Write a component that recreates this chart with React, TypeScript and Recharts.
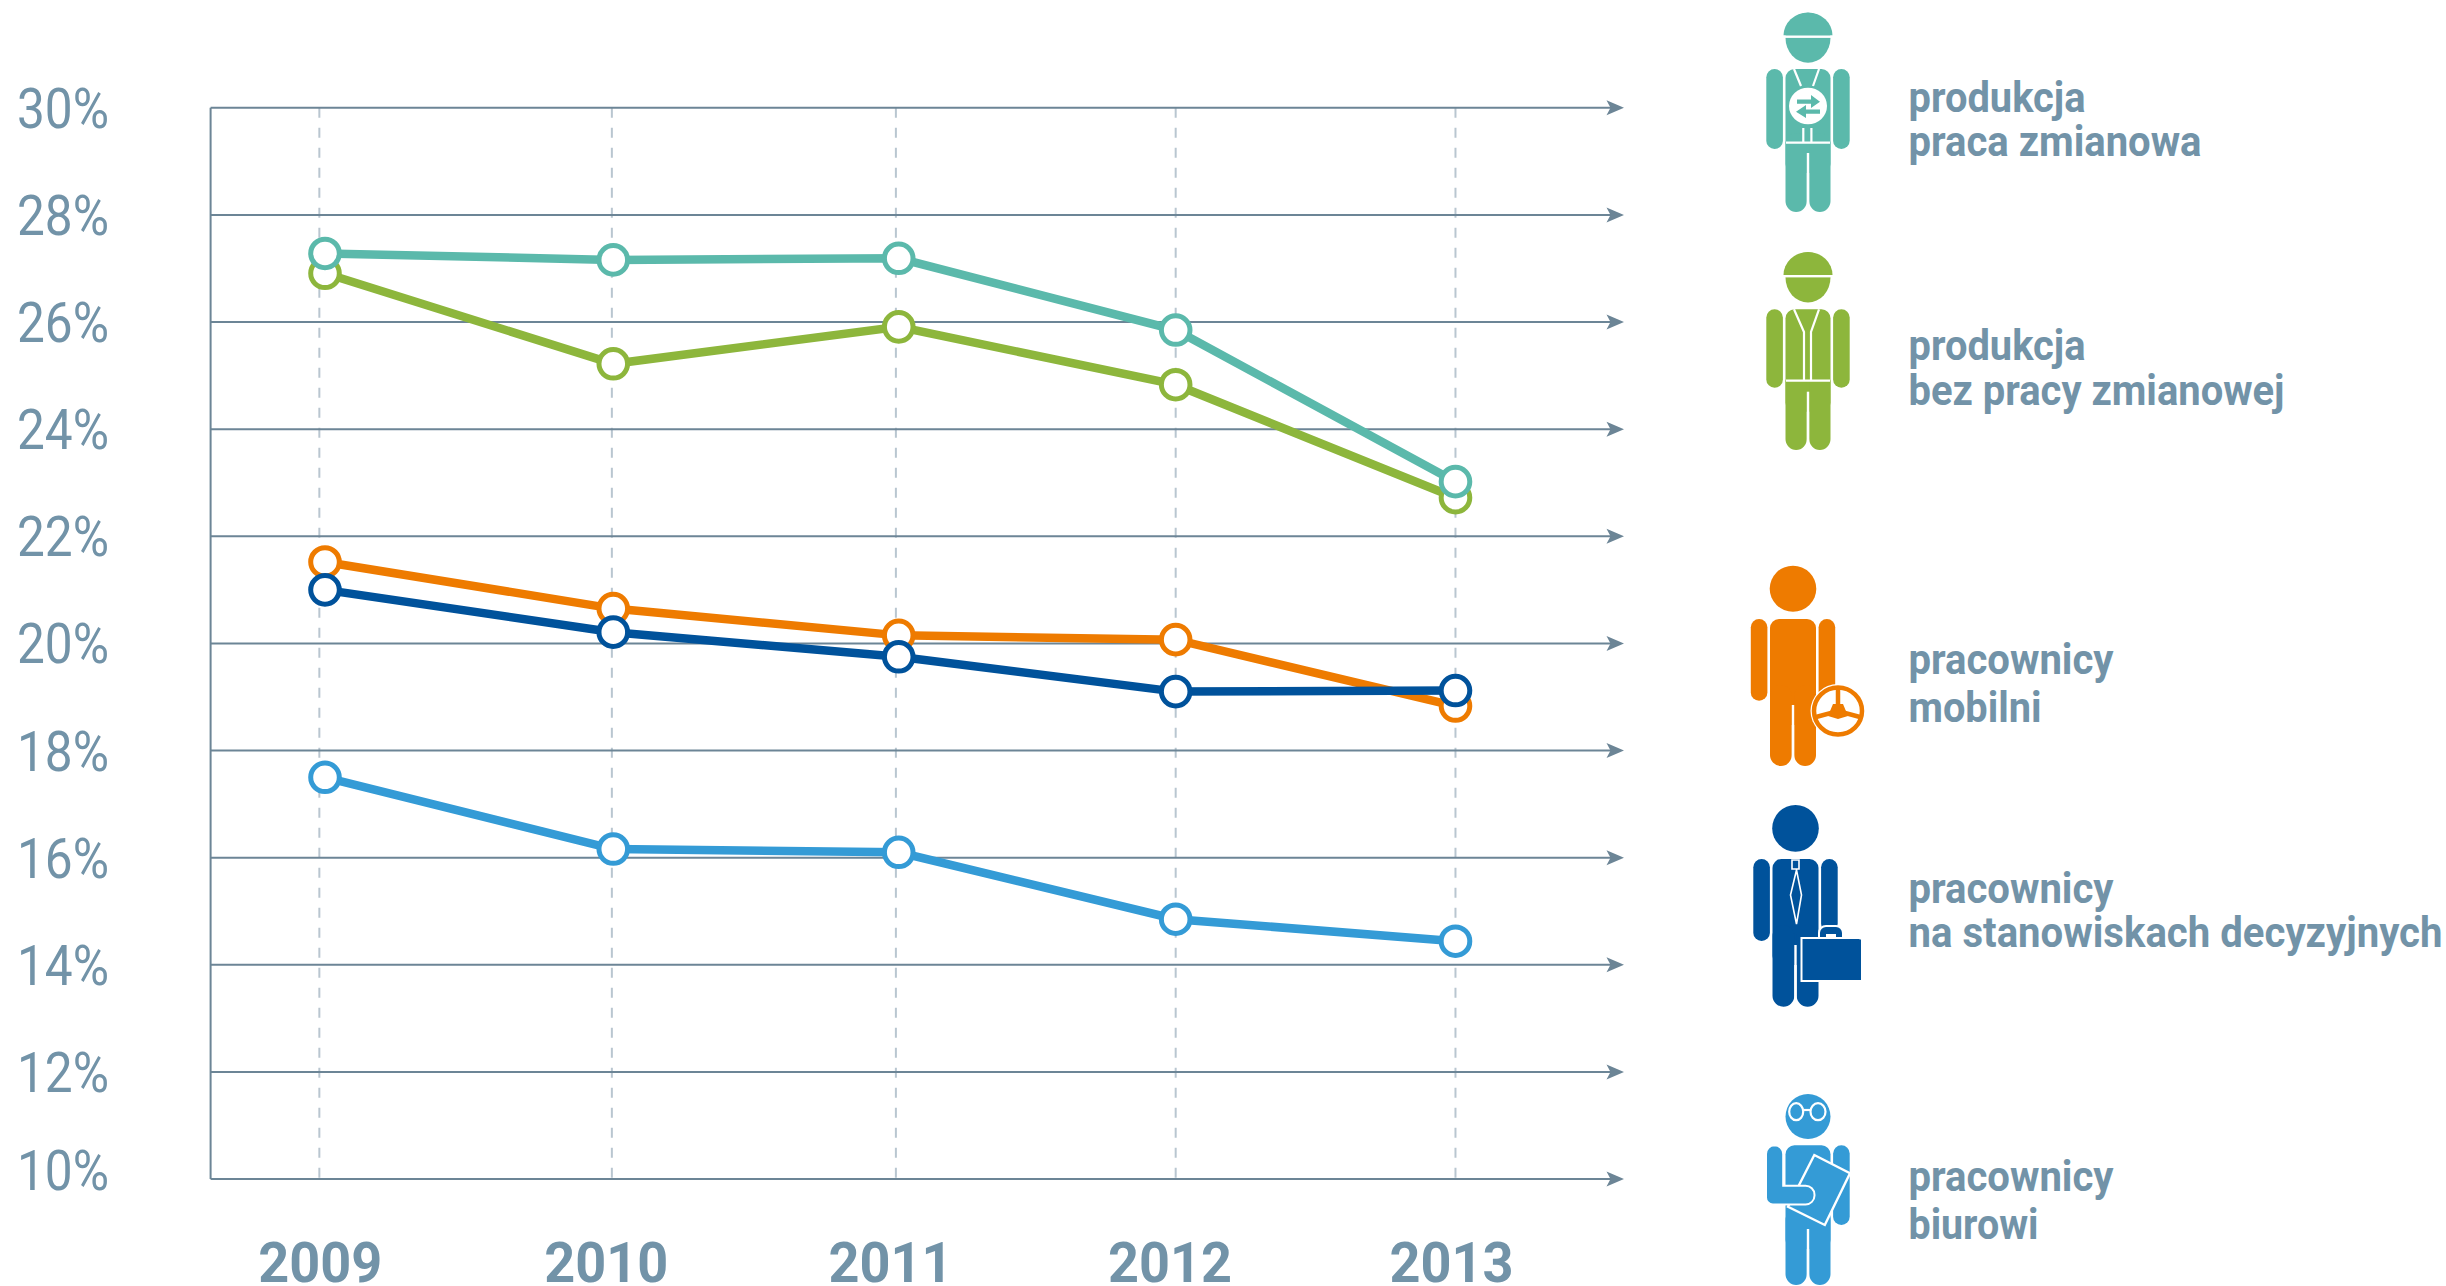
import { LineChart, Line, XAxis, YAxis, CartesianGrid, ReferenceLine } from 'recharts'

const WIDTH = 2446
const HEIGHT = 1286

const YEARS = ['2009', '2010', '2011', '2012', '2013']
// the source drawing is hand placed: years are not perfectly evenly spaced
const POINT_YEARS = [2009, 2010.02, 2011.03, 2012.01, 2013]
const GRID_YEARS = [2008.98, 2010.015, 2011.02, 2012.01, 2013]
const Y_TICKS = [10, 12, 14, 16, 18, 20, 22, 24, 26, 28, 30]

const SHIFT_WORK = [27.28, 27.16, 27.19, 25.85, 23.02]
const NO_SHIFT_WORK = [26.91, 25.22, 25.91, 24.83, 22.72]
const MOBILE = [21.52, 20.65, 20.15, 20.07, 18.83]
const MANAGERS = [21.0, 20.21, 19.75, 19.1, 19.12]
const OFFICE = [17.5, 16.16, 16.1, 14.85, 14.44]

const TEAL = '#5BB9AB'
const GREEN = '#8DB63C'
const ORANGE = '#EE7B00'
const NAVY = '#00529B'
const BLUE = '#349BD6'
const TEXT = '#7293A8'
const AXIS = '#6C8596'
const DASH = '#B9C6D0'

const chartData = POINT_YEARS.map((x, i) => ({
  x,
  shift: SHIFT_WORK[i],
  noShift: NO_SHIFT_WORK[i],
  mobile: MOBILE[i],
  managers: MANAGERS[i],
  office: OFFICE[i],
}))

const YEAR_SHIFT = [1, -5.5, -5.5, -5.7, -4]

const XTick = ({ x, index }: any) => (
  <text
    x={x + YEAR_SHIFT[index]}
    y={1281.5}
    textAnchor="middle"
    fontFamily="Roboto"
    fontWeight={700}
    fontSize={56}
    fill={TEXT}
    textLength={124}
    lengthAdjust="spacingAndGlyphs"
  >
    {YEARS[index]}
  </text>
)

const YTick = ({ y, payload }: any) => (
  <text
    x={17}
    y={y + (payload.value === 10 ? 11 : 20)}
    fontFamily="Roboto"
    fontWeight={400}
    fontSize={55}
    fill={TEXT}
    textLength={92}
    lengthAdjust="spacingAndGlyphs"
  >
    {`${payload.value}%`}
  </text>
)

const ArrowLine = ({ x1, y1, x2 }: any) => (
  <g>
    <line x1={x1} y1={y1} x2={x2 - 10} y2={y1} stroke={AXIS} strokeWidth={2} />
    <polygon points={`${x2},${y1} ${x2 - 17.5},${y1 - 7.5} ${x2 - 13.5},${y1} ${x2 - 17.5},${y1 + 7.5}`} fill={AXIS} />
  </g>
)

const dot = (color: string) => ({ r: 14.3, fill: '#fff', stroke: color, strokeWidth: 5 })

// generic figure used by all five legend icons
function Person({ color, x, headTop, headBottom, headRx = 22.5, top, crotch, feet, halfW = 22.5, leftArm, rightArm }: any) {
  const armGap = 2.6
  const armW = 16.6
  return (
    <g fill={color}>
      <ellipse cx={x} cy={(headTop + headBottom) / 2} rx={headRx} ry={(headBottom - headTop) / 2} />
      <rect x={x - halfW} y={top} width={halfW * 2} height={crotch - top + 20} rx={9} />
      <rect x={x - halfW} y={crotch - 20} width={halfW - 1.2} height={feet - crotch + 20} rx={11} />
      <rect x={x + 1.2} y={crotch - 20} width={halfW - 1.2} height={feet - crotch + 20} rx={11} />
      <rect x={x - 1.2} y={crotch} width={2.4} height={feet - crotch} fill="#fff" />
      {leftArm && <rect x={x - halfW - armGap - armW} y={top} width={armW} height={leftArm - top} rx={8.3} />}
      {rightArm && <rect x={x + halfW + armGap} y={top} width={armW} height={rightArm - top} rx={8.3} />}
    </g>
  )
}

const Helmet = ({ color, x, y }: any) => (
  <g>
    <path d={`M${x - 24.5} ${y} A24.5 23 0 0 1 ${x + 24.5} ${y} Z`} fill={color} />
    <rect x={x - 25} y={y} width={50} height={2.4} fill="#fff" />
  </g>
)

function Icons() {
  const w = { stroke: '#fff', strokeWidth: 2.2, fill: 'none' }
  return (
    <>
      {/* shift worker */}
      <Person color={TEAL} x={1808} headTop={12.7} headBottom={62.7} top={69} crotch={153} feet={212} leftArm={149} rightArm={149} />
      <Helmet color={TEAL} x={1808} y={35.5} />
      <path d="M1794 69L1801 86M1819 69L1813 86M1786 142.7H1830M1803.3 128V142.7M1811.4 128V142.7" {...w} />
      <ellipse cx={1808} cy={106} rx={19} ry={18.3} fill="#fff" />
      <polygon points="1797,99.5 1811,99.5 1811,95 1820,101.7 1811,108 1811,103.8 1797,103.8" fill={TEAL} />
      <polygon points="1820,109.5 1806,109.5 1806,105 1796,111.7 1806,118 1806,113.8 1820,113.8" fill={TEAL} />

      {/* worker without shifts */}
      <Person color={GREEN} x={1808} headTop={252.3} headBottom={302.5} top={309.3} crotch={391.7} feet={450} leftArm={387.7} rightArm={387.7} />
      <Helmet color={GREEN} x={1808} y={275} />
      <path d="M1794 309.3L1804 332V380.7M1819 309.3L1811 332V380.7M1786 380.7H1830" {...w} />

      {/* mobile worker */}
      <Person color={ORANGE} x={1793} headTop={565.7} headBottom={611.7} headRx={23.3} top={619} crotch={705} feet={766} halfW={23} leftArm={700.7} rightArm={700} />
      <ellipse cx={1838} cy={711} rx={27.5} ry={27} fill="#fff" />
      <ellipse cx={1838} cy={711} rx={24} ry={23.5} fill="#fff" stroke={ORANGE} strokeWidth={4.5} />
      <path d="M1838 689V711M1816 717L1838 711L1860 717" stroke={ORANGE} strokeWidth={4.5} fill="none" />
      <polygon points="1833,704 1843,704 1848,716 1838,719 1828,716" fill={ORANGE} />

      {/* manager */}
      <Person color={NAVY} x={1795.5} headTop={805} headBottom={851.7} headRx={23.3} top={859} crotch={945} feet={1006.7} halfW={23} leftArm={941} rightArm={932} />
      <path d="M1792 860H1799V869H1792ZM1796.5 870L1801.5 895L1796.5 924L1790.5 895Z" {...w} strokeWidth={1.6} />
      <rect x={1819} y={926} width={24} height={20} rx={7} fill={NAVY} stroke="#fff" strokeWidth={2} />
      <rect x={1826} y={934} width={10} height={8} fill="#fff" />
      <rect x={1801.5} y={938} width={59} height={43} fill={NAVY} stroke="#fff" strokeWidth={2} />
      <rect x={1803} y={939.5} width={58} height={40.5} fill={NAVY} />

      {/* office worker */}
      <Person color={BLUE} x={1808} headTop={1094} headBottom={1139} top={1145.3} crotch={1229} feet={1285} rightArm={1225} />
      <ellipse cx={1796.2} cy={1111.7} rx={7} ry={8.5} {...w} />
      <ellipse cx={1818} cy={1111.7} rx={7.5} ry={8.5} {...w} />
      <path d="M1803 1110H1810.5" {...w} />
      <polygon points="1814.3,1155 1850,1173.3 1824.8,1225 1788,1206.7" fill={BLUE} stroke="#fff" strokeWidth={2.4} />
      <path
        d="M1774.5 1145.3A8.7 8.7 0 0 1 1783.2 1154V1185.7H1805A9 9 0 0 1 1814.5 1195A9 9 0 0 1 1805 1204.5H1773A7 7 0 0 1 1766 1197V1154A8.7 8.7 0 0 1 1774.5 1145.3Z"
        fill={BLUE}
        stroke="#fff"
        strokeWidth={2}
      />
    </>
  )
}

const LEGEND_LINES = ['produkcja', 'praca zmianowa', 'produkcja', 'bez pracy zmianowej', 'pracownicy', 'mobilni', 'pracownicy', 'na stanowiskach decyzyjnych', 'pracownicy', 'biurowi']
const LEGEND_WIDTHS = [177, 293, 177, 376, 205, 133, 205, 534, 205, 130]
const LEGEND_BASELINES = [112, 155.5, 360, 404.5, 673.8, 722, 902.5, 946.5, 1190.5, 1238.5]

export default function App() {
  return (
    <div style={{ position: 'absolute', left: 0, top: 0, width: WIDTH, height: HEIGHT, background: '#fff', overflow: 'hidden' }}>
      <LineChart
        width={WIDTH}
        height={HEIGHT}
        data={chartData}
        margin={{ top: 107.8, right: 822, bottom: 0, left: 0 }}
      >
        <CartesianGrid horizontal={false} vertical syncWithTicks stroke={DASH} strokeWidth={2} strokeDasharray="10 10" />
        <XAxis
          dataKey="x"
          type="number"
          domain={[2008.5952, 2013.5963]}
          ticks={GRID_YEARS}
          interval={0}
          height={107}
          axisLine={false}
          tickLine={false}
          tick={<XTick />}
        />
        <YAxis
          type="number"
          domain={[10, 30]}
          ticks={Y_TICKS}
          interval={0}
          width={210.6}
          axisLine={{ stroke: AXIS, strokeWidth: 2 }}
          tickLine={false}
          tick={<YTick />}
        />
        {Y_TICKS.map(t => <ReferenceLine key={t} y={t} shape={<ArrowLine />} />)}
        <Line dataKey="noShift" stroke={GREEN} strokeWidth={8.5} dot={dot(GREEN)} isAnimationActive={false} />
        <Line dataKey="shift" stroke={TEAL} strokeWidth={8.5} dot={dot(TEAL)} isAnimationActive={false} />
        <Line dataKey="mobile" stroke={ORANGE} strokeWidth={8.5} dot={dot(ORANGE)} isAnimationActive={false} />
        <Line dataKey="managers" stroke={NAVY} strokeWidth={8.5} dot={dot(NAVY)} isAnimationActive={false} />
        <Line dataKey="office" stroke={BLUE} strokeWidth={8.5} dot={dot(BLUE)} isAnimationActive={false} />
      </LineChart>
      <svg width={WIDTH} height={HEIGHT} style={{ position: 'absolute', left: 0, top: 0 }}>
        <Icons />
        {LEGEND_LINES.map((line, i) => (
          <text
            key={i}
            x={1908.5}
            y={LEGEND_BASELINES[i]}
            fontFamily="Roboto"
            fontWeight={700}
            fontSize={42}
            fill={TEXT}
            textLength={LEGEND_WIDTHS[i]}
            lengthAdjust="spacingAndGlyphs"
          >
            {line}
          </text>
        ))}
      </svg>
    </div>
  )
}
